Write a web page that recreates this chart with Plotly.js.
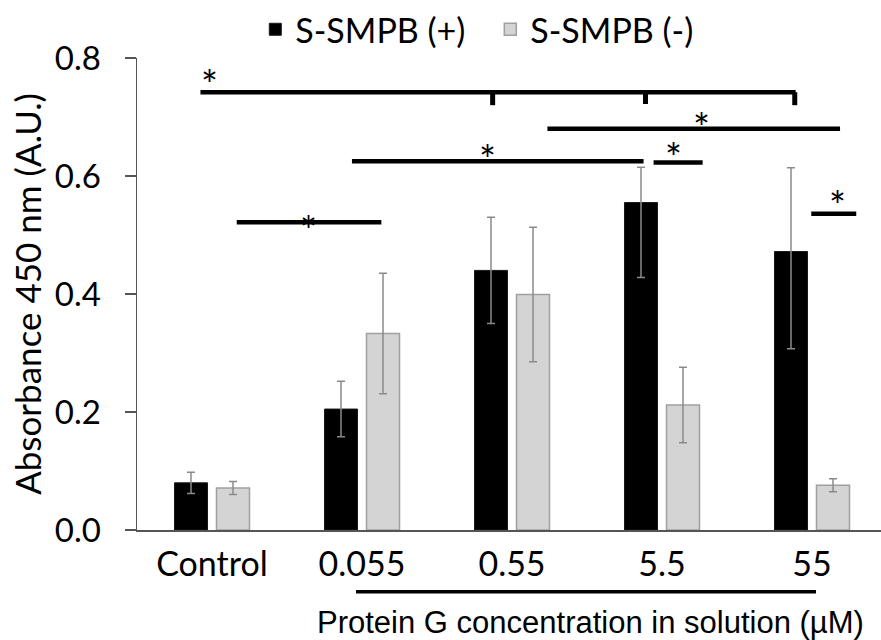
<!DOCTYPE html>
<html><head><meta charset="utf-8">
<script src="https://cdn.plot.ly/plotly-3.0.1.min.js"></script>
<style>body{margin:0;background:#fff}</style>
</head><body><div id="chart" style="width:881px;height:640px"></div>
<script>
const categories = ['Control', '0.055', '0.55', '5.5', '55'];
const seriesNames = ['S-SMPB (+)', 'S-SMPB (-)'];
const plusValues = [0.080, 0.205, 0.440, 0.555, 0.472];
const plusErrUp = [0.018, 0.047, 0.090, 0.060, 0.142];
const plusErrDown = [0.018, 0.047, 0.090, 0.127, 0.165];
const minusValues = [0.071, 0.333, 0.399, 0.212, 0.076];
const minusErrUp = [0.011, 0.102, 0.114, 0.064, 0.011];
const minusErrDown = [0.011, 0.102, 0.114, 0.064, 0.011];
const yTickVals = [0, 0.2, 0.4, 0.6, 0.8];
const yTickText = ['0.0', '0.2', '0.4', '0.6', '0.8'];
const yTitle = 'Absorbance 450 nm (A.U.)';
const xTitle = 'Protein G concentration in solution (\u00B5M)';
// significance bars (category index units / absorbance units): [x0, x1, y, starX, starY]
const sigLines = [
  [-0.077, 3.891, 0.742, -0.015, 0.771],
  [0.933, 2.877, 0.625, 1.837, 0.644],
  [2.944, 3.271, 0.623, 3.076, 0.647],
  [2.236, 4.187, 0.680, 3.265, 0.699],
  [3.995, 4.295, 0.536, 4.167, 0.566],
  [0.165, 1.129, 0.5215, 0.645, 0.524]
];
// bracket drops on the top bar: [x, yTop, yBottom]
const sigDrops = [
  [1.871, 0.742, 0.720],
  [2.890, 0.742, 0.722],
  [3.885, 0.742, 0.720]
];

const FONT = 'Lato, "Open Sans", sans-serif';

const traces = [
  {
    type: 'bar', name: seriesNames[0], x: categories, y: plusValues,
    marker: {color: '#000000', line: {color: '#1a1a1a', width: 1}},
    error_y: {type: 'data', symmetric: false, array: plusErrUp, arrayminus: plusErrDown,
              color: '#8a8a8a', thickness: 1.5, width: 4}
  },
  {
    type: 'bar', name: seriesNames[1], x: categories, y: minusValues,
    marker: {color: '#d4d4d4', line: {color: '#a0a0a0', width: 1.5}},
    error_y: {type: 'data', symmetric: false, array: minusErrUp, arrayminus: minusErrDown,
              color: '#8a8a8a', thickness: 1.5, width: 4}
  }
];

const shapes = [];
const annotations = [];
sigLines.forEach(s => {
  shapes.push({type: 'line', xref: 'x', yref: 'y', x0: s[0], x1: s[1], y0: s[2], y1: s[2],
               line: {color: '#000', width: 4.5}});
  annotations.push({xref: 'x', yref: 'y', x: s[3], y: s[4], text: '*', showarrow: false,
                    font: {family: FONT, size: 40, color: '#000'}, yshift: -10});
});
sigDrops.forEach(d => {
  shapes.push({type: 'line', xref: 'x', yref: 'y', x0: d[0], x1: d[0], y0: d[1], y1: d[2],
               line: {color: '#000', width: 5}});
});
// line under the protein G concentrations
shapes.push({type: 'line', xref: 'paper', yref: 'paper', x0: 0.2944, x1: 0.9126, y0: -0.1307, y1: -0.1307,
             line: {color: '#000', width: 3.5}});
annotations.push({xref: 'paper', yref: 'paper', x: 0.609, y: -0.2352, text: xTitle, showarrow: false,
                  xanchor: 'center', yanchor: 'bottom', borderpad: 0,
                  font: {family: '"Liberation Sans", Arial, sans-serif', size: 31, color: '#000'}});

const layout = {
  width: 881, height: 640,
  margin: {l: 137, r: 0, t: 58, b: 110, pad: 0},
  paper_bgcolor: '#fff', plot_bgcolor: '#fff',
  barmode: 'group', bargap: 0.44, bargroupgap: 0.214,
  font: {family: FONT, color: '#000'},
  xaxis: {
    type: 'category', range: [-0.5, 4.46], showgrid: false, zeroline: false,
    showline: true, linecolor: '#555', linewidth: 1.5, ticks: '',
    tickfont: {family: FONT, size: 34, color: '#000'}, ticklabelstandoff: 4
  },
  yaxis: {
    range: [0, 0.8], tickvals: yTickVals, ticktext: yTickText,
    showgrid: false, zeroline: false, showline: true, linecolor: '#555', linewidth: 1.5,
    ticks: 'outside', ticklen: 11, tickcolor: '#555', tickwidth: 1.5,
    tickfont: {family: FONT, size: 33, color: '#000'}, ticklabelstandoff: 17,
    title: {text: yTitle, font: {family: FONT, size: 35, color: '#000'}, standoff: 2}
  },
  showlegend: true,
  legend: {orientation: 'h', x: 0.159, xanchor: 'left', y: 1.06, yanchor: 'middle',
           entrywidth: 190, entrywidthmode: 'pixels',
           font: {family: FONT, size: 34, color: '#000'}, bgcolor: 'rgba(0,0,0,0)'},
  shapes: shapes, annotations: annotations
};

Plotly.newPlot('chart', traces, layout, {displayModeBar: false, staticPlot: true});
</script></body></html>
